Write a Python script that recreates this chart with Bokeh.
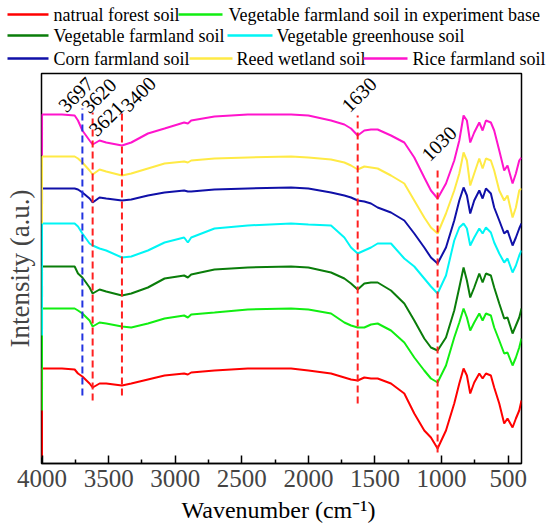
import numpy as np
from bokeh.plotting import figure
from bokeh.models import Range1d, FixedTicker, ColumnDataSource
from bokeh.layouts import column
from bokeh.embed import file_html
from bokeh.resources import INLINE
from bokeh.core.properties import value

# ---------------- data ----------------
wavenumber = [4000, 4000, 3850, 3755, 3730, 3697, 3643, 3620, 3568, 3518, 3400, 3330,
              3205, 3080, 2933, 2905, 2880, 2705, 2455, 2130, 2000, 1830, 1730, 1680,
              1630, 1580, 1530, 1480, 1380, 1280, 1205, 1130, 1080, 1030, 967, 905,
              867, 835, 810, 785, 755, 717, 692, 667, 630, 605, 567, 530, 505, 467,
              442, 417, 400]

natrual_forest = [6, 95, 95, 94, 90, 87, 80, 76, 80, 80, 78, 80, 84, 88, 90, 89, 91, 93,
                  95, 95, 93, 90, 86, 84, 83, 86, 85, 85, 80, 70, 50, 33, 26, 15, 33, 60,
                  80, 95, 88, 70, 81, 90, 85, 90, 88, 76, 60, 40, 45, 36, 45, 53, 63]
veg_experiment_base = [53, 155, 155, 155, 153, 150, 143, 137, 141, 140, 137, 136, 140,
                       145, 148, 146, 149, 151, 154, 155, 154, 150, 141, 138, 136, 136,
                       139, 140, 133, 121, 106, 93, 85, 81, 98, 126, 141, 155, 146, 133,
                       141, 150, 143, 150, 148, 136, 123, 110, 111, 98, 106, 116, 125]
veg_farmland = [133, 197, 197, 197, 190, 186, 176, 170, 174, 172, 168, 170, 176, 185, 188,
                186, 189, 194, 196, 197, 196, 191, 185, 180, 174, 180, 181, 181, 173, 160,
                143, 125, 116, 113, 126, 153, 176, 196, 183, 166, 176, 190, 181, 190, 188,
                176, 160, 145, 146, 130, 138, 146, 155]
veg_greenhouse = [128, 240, 240, 240, 237, 230, 220, 218, 215, 213, 206, 207, 213, 221,
                  226, 221, 226, 235, 238, 240, 239, 238, 226, 216, 210, 213, 216, 220,
                  220, 205, 197, 185, 177, 170, 188, 223, 236, 240, 235, 218, 226, 235,
                  230, 236, 231, 221, 210, 201, 205, 191, 198, 208, 213]
corn_farmland = [243, 275, 275, 275, 274, 271, 265, 261, 266, 265, 263, 264, 268, 271, 273,
                 272, 272, 274, 275, 276, 275, 271, 268, 266, 263, 262, 260, 256, 251, 243,
                 230, 216, 206, 200, 216, 243, 263, 276, 268, 250, 263, 273, 265, 275, 270,
                 256, 243, 230, 233, 218, 226, 235, 240]
reed_wetland = [240, 307, 307, 307, 305, 301, 293, 289, 294, 292, 288, 290, 295, 300, 302,
                301, 303, 305, 306, 307, 306, 304, 301, 298, 294, 297, 296, 295, 288, 280,
                263, 246, 236, 230, 250, 273, 290, 311, 303, 278, 290, 305, 295, 305, 303,
                293, 273, 263, 268, 246, 256, 273, 275]
rice_farmland = [308, 349, 349, 348, 343, 333, 323, 319, 323, 321, 318, 321, 330, 335, 341,
                 340, 343, 347, 349, 349, 348, 343, 339, 335, 328, 333, 334, 334, 328, 321,
                 306, 286, 273, 265, 280, 303, 323, 348, 343, 321, 331, 341, 333, 343, 341,
                 333, 313, 293, 298, 280, 290, 303, 306]

series_names = ["natrual forest soil", "Vegetable farmland soil in experiment base",
                "Vegetable farmland soil", "Vegetable greenhouse soil",
                "Corn farmland soil", "Reed wetland soil", "Rice farmland soil"]
series_values = [natrual_forest, veg_experiment_base, veg_farmland, veg_greenhouse,
                 corn_farmland, reed_wetland, rice_farmland]
series_colors = ["#FF0000", "#11EE11", "#0A7D0A", "#00F5F5", "#1010A8", "#FFEA45", "#FF14CC"]

peak_line_wn = [3697, 3620, 3400, 1630, 1030]
peak_line_top = [355, 351, 353, 348, 296]
peak_line_bottom = [68, 63, 68, 60, 11]
peak_line_colors = ["#2233E0", "#FF2020", "#FF2020", "#FF2020", "#FF2020"]

peak_labels = ["3697", "3620", "3621", "3400", "1630", "1030"]
peak_label_wn = [3697, 3620, 3620, 3400, 1630, 1030]
peak_label_y = [355, 351, 351, 353, 348, 296]

x_ticks = [4000, 3500, 3000, 2500, 2000, 1500, 1000, 500]
x_minor_ticks = [3750, 3250, 2750, 2250, 1750, 1250, 750]
x_title = "Wavenumber  (cm\u207b\u00b9)"
y_title = "Intensity (a.u.)"

FONT = "Liberation Serif"


def strip(height, y0, y1):
    """A blank figure whose ranges are page pixels (for outer texts)."""
    f = figure(width=550, height=height, x_range=Range1d(0, 550), y_range=Range1d(y1, y0),
               x_axis_type=None, y_axis_type=None, output_backend="svg", title=None,
               toolbar_location=None, min_border=0)
    f.frame_align = False
    f.grid.visible = False
    f.outline_line_color = None
    return f


# ---------------- legend strip ----------------
leg = strip(72, 0, 72)
# flowing legend layout: (row, line start, line end, text start)
leg_layout = [(0, 7, 48, 53), (0, 178, 222, 228), (1, 7, 48, 53), (1, 227, 272, 276),
              (2, 7, 48, 53), (2, 189, 232, 236), (2, 363, 407, 412)]
row_y = [14, 35, 58]
for (row, x0, x1, xt), name, col in zip(leg_layout, series_names, series_colors):
    leg.segment(x0=[x0], y0=[row_y[row]], x1=[x1], y1=[row_y[row]],
                line_color=col, line_width=2.5)
    leg.text(x=[xt], y=[row_y[row]], text=[name], text_font=value(FONT),
             text_font_size="18px", text_color="black", text_align="left",
             text_baseline="middle")

# ---------------- main chart ----------------
p = figure(width=550, height=423, x_range=Range1d(4004, 400), y_range=Range1d(0, 390),
           output_backend="svg", toolbar_location=None, title=None,
           min_border_top=1, min_border_left=41, min_border_right=29, min_border_bottom=32)
p.frame_align = False
p.grid.visible = False
p.outline_line_color = "black"
p.outline_line_width = 1.5

for vals, col in zip(series_values, series_colors):
    p.line(wavenumber, vals, line_color=col, line_width=2)

p.segment(x0=peak_line_wn, y0=peak_line_bottom, x1=peak_line_wn, y1=peak_line_top,
          line_color=peak_line_colors, line_width=2, line_dash="7 4")

lab_src = ColumnDataSource(dict(
    x=peak_label_wn, y=peak_label_y, text=peak_labels,
    dx=[-6.6, 6, 13.6, 16.3, 1.3, 1.3], dy=[-14, -17, 6, -16.5, -21, -24]))
p.text(x="x", y="y", text="text", source=lab_src, x_offset="dx", y_offset="dy",
       angle=np.pi / 4, text_align="center", text_baseline="middle",
       text_font=value(FONT), text_font_size="20px", text_color="black")

xa = p.xaxis[0]
xa.ticker = FixedTicker(ticks=x_ticks, minor_ticks=x_minor_ticks)
xa.major_label_text_font = FONT
xa.major_label_text_font_size = "25px"
xa.major_label_standoff = 6
xa.major_tick_in = 8
xa.major_tick_out = 0
xa.minor_tick_in = 4
xa.minor_tick_out = 0
xa.axis_line_width = 1.5
xa.major_tick_line_width = 1.5
xa.minor_tick_line_width = 1.5

ya = p.yaxis[0]
ya.ticker = FixedTicker(ticks=[])
ya.axis_label = y_title
ya.axis_label_text_font = FONT
ya.axis_label_text_font_size = "27px"
ya.axis_label_text_font_style = "normal"
ya.axis_label_standoff = 7
ya.major_label_standoff = 0
ya.major_tick_in = 0
ya.major_tick_out = 0
ya.minor_tick_in = 0
ya.minor_tick_out = 0
ya.axis_line_color = None

# ---------------- x-axis title strip ----------------
xt_fig = strip(29, 495, 524)
xt_fig.text(x=[281], y=[509.5], text=[x_title], text_font=value(FONT),
            text_font_size="24px", text_color="black", text_align="center",
            text_baseline="middle")

layout = column(leg, p, xt_fig)
open("out.html", "w").write(file_html(layout, INLINE))
